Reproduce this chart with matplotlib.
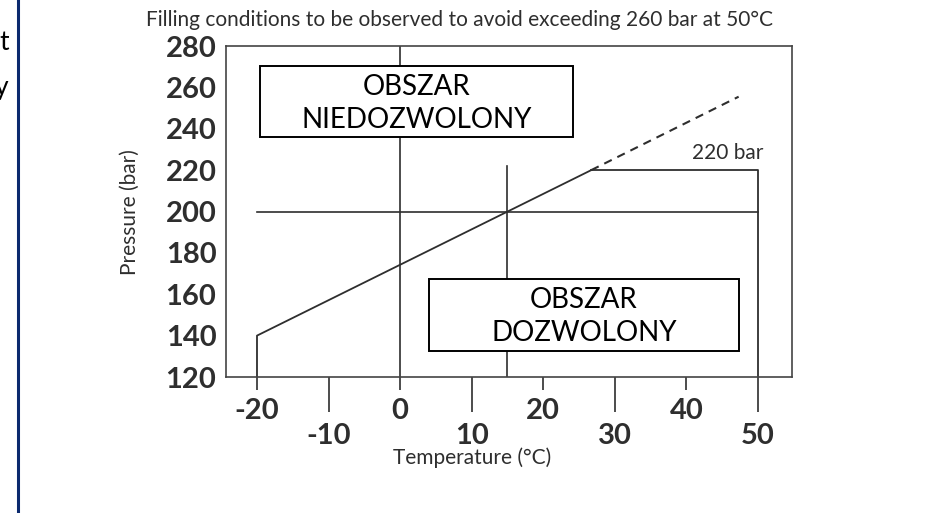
import matplotlib.pyplot as plt
from matplotlib.patches import Rectangle
from matplotlib.ticker import FixedLocator

plt.rcParams['font.family'] = ['Lato', 'DejaVu Sans']

# dane wykresu
granica_t = [-20, -20, 26.7]        # linia ciągła (°C)
granica_p = [120, 140, 220]         # ciśnienie (bar)
przedluzenie_t = [26.7, 47.3]       # linia przerywana
przedluzenie_p = [220, 255.5]
limit_t = [26.7, 50, 50]            # limit 220 bar
limit_p = [220, 220, 120]
ref_t = 15                          # punkt odniesienia
ref_p = 200
tick_gora = [-20, 0, 20, 40]
tick_dol = [-10, 10, 30, 50]
tick_y = [120, 140, 160, 180, 200, 220, 240, 260, 280]

kolor = '#2e2e2e'

fig = plt.figure(figsize=(9.48, 5.13), dpi=100)
ax = fig.add_axes([0.2384, 0.2651, 0.597, 0.6452])
ax.set_xlim(-24.33, 54.75)
ax.set_ylim(120, 280)

# linie pomocnicze
ax.plot([0, 0], [120, 280], color=kolor, lw=1.2, zorder=1)
ax.plot([ref_t, ref_t], [120, ref_p + 22], color=kolor, lw=1.2, zorder=1)
ax.plot([-20, 50], [ref_p, ref_p], color=kolor, lw=1.2, zorder=1)

# krzywa napełniania
ax.plot(granica_t, granica_p, color=kolor, lw=1.3, zorder=2)
ax.plot(przedluzenie_t, przedluzenie_p, color=kolor, lw=1.5, ls=(0, (4, 3)), zorder=2)
ax.plot(limit_t, limit_p, color=kolor, lw=1.3, zorder=2)
ax.text(45.8, 223.5, '220 bar', fontsize=15, color=kolor, ha='center', va='bottom')

# ramki z opisem obszarów
ax.add_patch(Rectangle((-19.56, 236.0), 43.73, 34.3, facecolor='white',
                       edgecolor='black', lw=1.4, zorder=3))
ax.text(2.3, 260.3, 'OBSZAR', fontsize=20, ha='center', va='center', zorder=4)
ax.text(2.3, 244.3, 'NIEDOZWOLONY', fontsize=20, ha='center', va='center', zorder=4)
ax.add_patch(Rectangle((4.05, 132.7), 43.35, 34.7, facecolor='white',
                       edgecolor='black', lw=1.4, zorder=3))
ax.text(25.7, 157.3, 'OBSZAR', fontsize=20, ha='center', va='center', zorder=4)
ax.text(25.7, 141.3, 'DOZWOLONY', fontsize=20, ha='center', va='center', zorder=4)

# osie
for s in ax.spines.values():
    s.set_color('#444444')
    s.set_linewidth(1.2)

ax.xaxis.set_major_locator(FixedLocator(tick_gora))
ax.xaxis.set_minor_locator(FixedLocator(tick_dol))
ax.set_xticklabels([str(t) for t in tick_gora])
ax.xaxis.set_minor_formatter(plt.FixedFormatter([str(t) for t in tick_dol]))
ax.tick_params(axis='x', which='major', length=9, width=1.2, color=kolor,
               pad=6, labelsize=21, labelcolor=kolor)
ax.tick_params(axis='x', which='minor', length=25, width=1.2, color=kolor,
               pad=8, labelsize=21, labelcolor=kolor)
for lab in ax.get_xticklabels() + ax.get_xticklabels(minor=True):
    lab.set_fontweight('bold')

ax.set_yticks(tick_y)
ax.tick_params(axis='y', length=0, pad=7, labelsize=21, labelcolor=kolor)
for lab in ax.get_yticklabels():
    lab.set_fontweight('bold')

fig.text(0.4842, 0.961, 'Filling conditions to be observed to avoid exceeding 260 bar at 50°C',
         fontsize=15, color=kolor, ha='center', va='center')
fig.text(0.1371, 0.587, 'Pressure (bar)', fontsize=15, color=kolor, rotation=90,
         ha='center', va='center')
fig.text(0.4979, 0.107, 'Temperature (°C)', fontsize=15, color=kolor,
         ha='center', va='center')

# niebieska linia i ucięty tekst z lewej
fig.add_artist(plt.Line2D([0.0185, 0.0185], [0, 1], color='#0b2a6e', lw=2.2,
                          transform=fig.transFigure))
fig.text(0.009, 0.918, 't', fontsize=19, ha='right', va='center')
fig.text(0.009, 0.83, 'y', fontsize=19, ha='right', va='center')

fig.savefig('out.png', dpi=100)
